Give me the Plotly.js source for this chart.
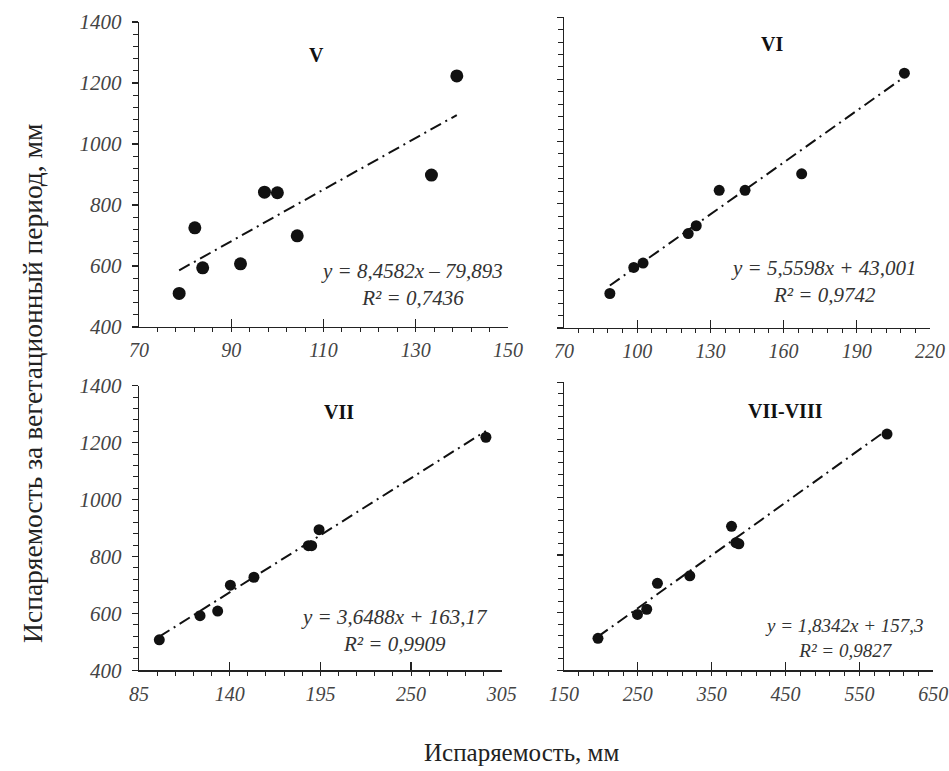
<!DOCTYPE html>
<html>
<head>
<meta charset="utf-8">
<script src="https://cdn.plot.ly/plotly-3.0.1.min.js"></script>
<style>html,body{margin:0;padding:0;background:#fff;}#chart{width:949px;height:771px;}</style>
</head>
<body>
<div id="chart"></div>
<script>
// Panel labels
const panelNames = ['V', 'VI', 'VII', 'VII-VIII'];

// Panel V
const xV = [78.7, 82.1, 83.8, 92.0, 97.2, 100.0, 104.3, 133.4, 138.9];
const yV = [510, 725, 594, 607, 842, 840, 699, 898, 1223];
// Panel VI
const xVI = [88.8, 98.6, 102.4, 120.9, 124.2, 133.6, 144.2, 167.4, 209.5];
const yVI = [511, 595, 609, 704, 729, 843, 843, 896, 1220];
// Panel VII
const xVII = [97.3, 122.0, 132.7, 140.4, 154.7, 187.7, 189.7, 194.2, 295.4];
const yVII = [507, 592, 608, 699, 727, 838, 838, 894, 1219];
// Panel VII-VIII
const xVIII = [196, 249.5, 262, 276.5, 320.3, 376.8, 382.7, 386.7, 587.3];
const yVIII = [511, 594, 612, 702, 728, 900, 843, 839, 1220];

// Trendline coefficients (as printed)
const slopes = [8.4582, 5.5598, 3.6488, 1.8342];
const intercepts = [-79.893, 43.001, 163.17, 157.3];
const eqTexts = [
  'y = 8,4582x – 79,893<br>R² = 0,7436',
  'y = 5,5598x + 43,001<br>R² = 0,9742',
  'y = 3,6488x + 163,17<br>R² = 0,9909',
  'y = 1,8342x + 157,3<br>R² = 0,9827'
];

// Axis ranges / ticks
const xRanges = [[70, 150], [70, 220], [85, 305], [150, 650]];
const xDticks = [20, 30, 55, 100];
const xMinor = [4, 6, 11, 20];
const yRange = [400, 1400];
const yDtick = 200;
const yMinorD = 40;

const yTitle = 'Испаряемость за вегетационный период, мм';
const xTitle = 'Испаряемость, мм';

const xs = [xV, xVI, xVII, xVIII];
const ys = [yV, yVI, yVII, yVIII];

const domains = [
  {x: [0.1465, 0.5353], y: [0.5759, 0.9715]},
  {x: [0.5943, 0.9800], y: [0.5746, 0.9776]},
  {x: [0.1465, 0.5287], y: [0.1306, 0.4997]},
  {x: [0.5943, 0.9835], y: [0.1306, 0.5042]}
];
const markerSizes = [13, 11, 11, 11];
const labelPos = [[0.48, 0.892], [0.569, 0.913], [0.552, 0.9065], [0.599, 0.900]];
const eqPos = [[0.739, 0.138], [0.7085, 0.151], [0.7036, 0.1416], [0.7585, 0.111]];
const eqSizes = [21, 21, 21, 19];

const serif = "'Liberation Serif', 'Times New Roman', serif";
const traces = [];
const layout = {
  width: 949, height: 771,
  margin: {l: 0, r: 0, t: 0, b: 0},
  paper_bgcolor: '#fff', plot_bgcolor: 'rgba(0,0,0,0)',
  showlegend: false,
  annotations: []
};

for (let i = 0; i < 4; i++) {
  const n = i === 0 ? '' : String(i + 1);
  const xa = 'x' + n, ya = 'y' + n;
  const xmin = Math.min(...xs[i]), xmax = Math.max(...xs[i]);
  traces.push({
    x: [xmin, xmax],
    y: [slopes[i] * xmin + intercepts[i], slopes[i] * xmax + intercepts[i]],
    xaxis: xa, yaxis: ya, mode: 'lines', hoverinfo: 'skip',
    line: {color: '#111', width: 2, dash: '12px,5px,2px,5px'}
  });
  traces.push({
    x: xs[i], y: ys[i], xaxis: xa, yaxis: ya, mode: 'markers',
    marker: {color: '#111', size: markerSizes[i]}
  });
  layout['xaxis' + n] = {
    domain: domains[i].x, anchor: ya, range: xRanges[i],
    tick0: xRanges[i][0], dtick: xDticks[i],
    showgrid: false, zeroline: false, showline: true, linecolor: '#222', linewidth: 1.3,
    ticks: 'inside', ticklen: 8, tickcolor: '#222', tickwidth: 1.2,
    minor: {tick0: xRanges[i][0], dtick: xMinor[i], ticks: 'outside', ticklen: 4, tickcolor: '#222', tickwidth: 1, showgrid: false},
    tickfont: {family: serif, size: 20, color: '#444', style: 'italic'},
    ticklabelstandoff: 5
  };
  layout['yaxis' + n] = {
    domain: domains[i].y, anchor: xa, range: yRange,
    tick0: 400, dtick: yDtick,
    showgrid: false, zeroline: false, showline: true, linecolor: '#222', linewidth: 1.3,
    ticks: 'outside', ticklen: 6, tickcolor: '#222', tickwidth: 1.2,
    minor: {tick0: 400, dtick: yMinorD, ticks: 'outside', ticklen: 5, tickcolor: '#222', tickwidth: 1, showgrid: false},
    showticklabels: (i === 0 || i === 2),
    tickfont: {family: serif, size: 21, color: '#444', style: 'italic'},
    ticklabelstandoff: 6
  };
  layout.annotations.push({
    xref: xa + ' domain', yref: ya + ' domain', x: labelPos[i][0], y: labelPos[i][1],
    xanchor: 'center', yanchor: 'middle',
    text: '<b>' + panelNames[i] + '</b>', showarrow: false,
    font: {family: serif, size: 20, color: '#111'}
  });
  layout.annotations.push({
    xref: xa + ' domain', yref: ya + ' domain', x: eqPos[i][0], y: eqPos[i][1],
    xanchor: 'center', yanchor: 'middle',
    text: '<i>' + eqTexts[i] + '</i>', showarrow: false, align: 'center',
    font: {family: serif, size: eqSizes[i], color: '#333'}
  });
}

layout.annotations.push({
  xref: 'paper', yref: 'paper', x: 0.0334, y: 0.503, textangle: -90,
  xanchor: 'center', yanchor: 'middle',
  text: yTitle, showarrow: false,
  font: {family: serif, size: 27.5, color: '#222'}
});
layout.annotations.push({
  xref: 'paper', yref: 'paper', x: 0.55, y: 0.0246,
  xanchor: 'center', yanchor: 'middle',
  text: xTitle, showarrow: false,
  font: {family: serif, size: 25, color: '#222'}
});

Plotly.newPlot('chart', traces, layout, {displayModeBar: false, staticPlot: true});
</script>
</body>
</html>
